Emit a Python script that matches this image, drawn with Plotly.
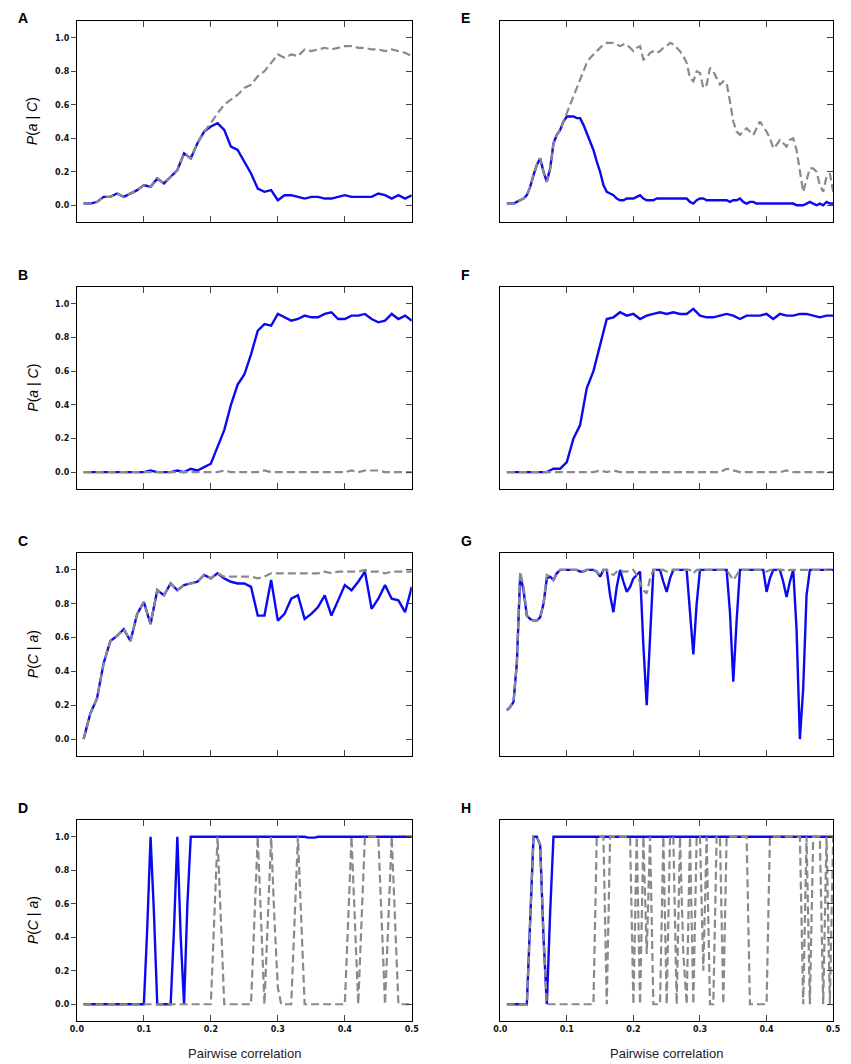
import plotly.graph_objects as go

# sample grids (pairwise correlation)
x_coarse = [round(0.01 * i, 2) for i in range(1, 51)]      # 0.01 .. 0.50
x_fine = [round(0.005 * i, 3) for i in range(2, 101)]      # 0.01 .. 0.50

# ---- left column (A-D) ----
a_blue = [0.01, 0.01, 0.02, 0.05, 0.05, 0.07, 0.05, 0.07, 0.09, 0.12,
          0.11, 0.16, 0.13, 0.17, 0.21, 0.31, 0.28, 0.37, 0.44, 0.47,
          0.49, 0.45, 0.35, 0.33, 0.26, 0.19, 0.10, 0.08, 0.09, 0.03,
          0.06, 0.06, 0.05, 0.04, 0.05, 0.05, 0.04, 0.04, 0.05, 0.06,
          0.05, 0.05, 0.05, 0.05, 0.07, 0.06, 0.04, 0.06, 0.04, 0.06]
a_gray = [0.01, 0.01, 0.02, 0.05, 0.05, 0.07, 0.05, 0.07, 0.09, 0.12,
          0.11, 0.16, 0.13, 0.17, 0.21, 0.31, 0.28, 0.37, 0.44, 0.49,
          0.55, 0.60, 0.63, 0.66, 0.70, 0.72, 0.77, 0.80, 0.85, 0.90,
          0.88, 0.90, 0.89, 0.93, 0.92, 0.93, 0.94, 0.93, 0.94, 0.95,
          0.95, 0.94, 0.94, 0.93, 0.93, 0.92, 0.93, 0.92, 0.91, 0.89]

b_blue = [0.0, 0.0, 0.0, 0.0, 0.0, 0.0, 0.0, 0.0, 0.0, 0.0,
          0.01, 0.0, 0.0, 0.0, 0.01, 0.0, 0.02, 0.01, 0.03, 0.05,
          0.15, 0.25, 0.40, 0.52, 0.58, 0.70, 0.84, 0.88, 0.87, 0.94,
          0.92, 0.90, 0.91, 0.93, 0.92, 0.92, 0.94, 0.95, 0.91, 0.91,
          0.93, 0.93, 0.94, 0.91, 0.89, 0.90, 0.94, 0.91, 0.93, 0.90]
b_gray = [0.0, 0.0, 0.0, 0.0, 0.0, 0.0, 0.0, 0.0, 0.0, 0.0,
          0.0, 0.0, 0.0, 0.0, 0.0, 0.0, 0.0, 0.0, 0.0, 0.0,
          0.0, 0.01, 0.0, 0.0, 0.0, 0.0, 0.0, 0.01, 0.0, 0.0,
          0.0, 0.0, 0.0, 0.0, 0.0, 0.0, 0.0, 0.0, 0.0, 0.0,
          0.01, 0.0, 0.01, 0.01, 0.01, 0.0, 0.0, 0.0, 0.0, 0.0]

c_blue = [0.0, 0.15, 0.24, 0.45, 0.58, 0.61, 0.65, 0.58, 0.74, 0.81,
          0.68, 0.88, 0.85, 0.92, 0.88, 0.91, 0.92, 0.93, 0.97, 0.95,
          0.98, 0.95, 0.93, 0.92, 0.92, 0.90, 0.73, 0.73, 0.94, 0.70,
          0.74, 0.83, 0.85, 0.71, 0.74, 0.78, 0.85, 0.73, 0.82, 0.91,
          0.88, 0.93, 0.99, 0.77, 0.83, 0.91, 0.83, 0.82, 0.75, 0.90]
c_gray = [0.0, 0.15, 0.24, 0.45, 0.58, 0.61, 0.65, 0.58, 0.74, 0.81,
          0.68, 0.88, 0.85, 0.92, 0.88, 0.91, 0.92, 0.93, 0.97, 0.95,
          0.98, 0.96, 0.96, 0.96, 0.96, 0.96, 0.95, 0.96, 0.98, 0.98,
          0.98, 0.98, 0.98, 0.98, 0.98, 0.98, 0.99, 0.98, 0.99, 0.99,
          0.99, 0.99, 1.0, 0.99, 0.99, 0.98, 0.99, 0.99, 0.99, 0.99]

d_blue = [0.0, 0.0, 0.0, 0.0, 0.0, 0.0, 0.0, 0.0, 0.0, 0.0,
          0.0, 0.0, 0.0, 0.0, 0.0, 0.0, 0.0, 0.0, 0.0, 0.45,
          1.0, 0.55, 0.0, 0.0, 0.0, 0.0, 0.0, 0.45, 1.0, 0.4,
          0.0, 0.6, 1.0, 1.0, 1.0, 1.0, 1.0, 1.0, 1.0, 1.0,
          1.0, 1.0, 1.0, 1.0, 1.0, 1.0, 1.0, 1.0, 1.0, 1.0,
          1.0, 1.0, 1.0, 1.0, 1.0, 1.0, 1.0, 1.0, 1.0, 1.0,
          1.0, 1.0, 1.0, 1.0, 1.0, 1.0, 1.0, 0.995, 0.995, 0.995,
          1.0, 1.0, 1.0, 1.0, 1.0, 1.0, 1.0, 1.0, 1.0, 1.0,
          1.0, 1.0, 1.0, 1.0, 1.0, 1.0, 1.0, 1.0, 1.0, 1.0,
          1.0, 1.0, 1.0, 1.0, 1.0, 1.0, 1.0, 1.0, 1.0]
d_gray = [0.0, 0.0, 0.0, 0.0, 0.0, 0.0, 0.0, 0.0, 0.0, 0.0,
          0.0, 0.0, 0.0, 0.0, 0.0, 0.0, 0.0, 0.0, 0.0, 0.0,
          0.0, 0.0, 0.0, 0.0, 0.0, 0.0, 0.0, 0.0, 0.0, 0.0,
          0.0, 0.0, 0.0, 0.0, 0.0, 0.0, 0.0, 0.0, 0.0, 0.5,
          1.0, 0.5, 0.0, 0.0, 0.0, 0.0, 0.0, 0.0, 0.0, 0.0,
          0.0, 0.5, 1.0, 0.5, 0.0, 0.5, 1.0, 0.5, 0.1, 0.0,
          0.0, 0.0, 0.0, 0.5, 1.0, 0.5, 0.0, 0.0, 0.0, 0.0,
          0.0, 0.0, 0.0, 0.0, 0.0, 0.0, 0.0, 0.0, 0.0, 0.5,
          1.0, 0.5, 0.0, 0.5, 1.0, 1.0, 1.0, 1.0, 1.0, 0.5,
          0.0, 0.5, 1.0, 0.5, 0.0, 0.0, 0.0, 0.0, 0.0]

# ---- right column (E-H) ----
e_blue = [0.01, 0.01, 0.01, 0.02, 0.03, 0.04, 0.06, 0.11, 0.18, 0.24,
          0.28, 0.20, 0.14, 0.22, 0.37, 0.42, 0.45, 0.50, 0.53, 0.53,
          0.53, 0.52, 0.52, 0.48, 0.43, 0.38, 0.33, 0.26, 0.20, 0.12,
          0.08, 0.07, 0.06, 0.04, 0.03, 0.03, 0.04, 0.04, 0.04, 0.05,
          0.06, 0.04, 0.03, 0.03, 0.03, 0.04, 0.04, 0.04, 0.04, 0.04,
          0.04, 0.04, 0.04, 0.04, 0.04, 0.02, 0.01, 0.03, 0.04, 0.04,
          0.03, 0.03, 0.03, 0.03, 0.03, 0.03, 0.03, 0.02, 0.03, 0.03,
          0.04, 0.02, 0.01, 0.02, 0.02, 0.01, 0.01, 0.01, 0.01, 0.01,
          0.01, 0.01, 0.01, 0.01, 0.01, 0.01, 0.01, 0.0, 0.0, 0.0,
          0.01, 0.02, 0.01, 0.0, 0.01, 0.0, 0.02, 0.01, 0.01]
e_gray = [0.01, 0.01, 0.01, 0.02, 0.03, 0.04, 0.06, 0.11, 0.18, 0.24,
          0.28, 0.20, 0.14, 0.22, 0.37, 0.42, 0.45, 0.50, 0.55, 0.61,
          0.66, 0.70, 0.75, 0.80, 0.85, 0.88, 0.90, 0.92, 0.94, 0.96,
          0.97, 0.97, 0.97, 0.96, 0.95, 0.96, 0.96, 0.94, 0.92, 0.94,
          0.95, 0.87, 0.88, 0.91, 0.92, 0.91, 0.92, 0.94, 0.95, 0.97,
          0.96, 0.94, 0.92, 0.89, 0.85, 0.76, 0.74, 0.80, 0.79, 0.70,
          0.72, 0.82, 0.80, 0.76, 0.72, 0.74, 0.73, 0.62, 0.50, 0.44,
          0.42, 0.44, 0.46, 0.44, 0.42, 0.46, 0.50, 0.47, 0.44, 0.40,
          0.34, 0.36, 0.39, 0.37, 0.35, 0.39, 0.40, 0.33, 0.20, 0.08,
          0.15, 0.22, 0.22, 0.20, 0.12, 0.08, 0.17, 0.19, 0.08]

f_blue = [0.0, 0.0, 0.0, 0.0, 0.0, 0.0, 0.0, 0.02, 0.02, 0.06,
          0.20, 0.28, 0.50, 0.60, 0.75, 0.91, 0.92, 0.95, 0.93, 0.94,
          0.91, 0.93, 0.94, 0.95, 0.94, 0.95, 0.94, 0.94, 0.97, 0.93,
          0.92, 0.92, 0.93, 0.94, 0.93, 0.91, 0.93, 0.93, 0.93, 0.94,
          0.91, 0.94, 0.93, 0.93, 0.94, 0.94, 0.93, 0.92, 0.93, 0.93]
f_gray = [0.0, 0.0, 0.0, 0.0, 0.0, 0.0, 0.0, 0.0, 0.0, 0.0,
          0.0, 0.0, 0.0, 0.0, 0.01, 0.0, 0.01, 0.0, 0.0, 0.0,
          0.0, 0.0, 0.0, 0.0, 0.0, 0.0, 0.0, 0.0, 0.0, 0.0,
          0.0, 0.0, 0.0, 0.02, 0.01, 0.0, 0.0, 0.0, 0.0, 0.0,
          0.0, 0.0, 0.01, 0.0, 0.0, 0.0, 0.0, 0.0, 0.0, 0.0]

g_blue = [0.17, 0.19, 0.22, 0.45, 0.97, 0.88, 0.73, 0.71, 0.70, 0.70,
          0.72, 0.80, 0.95, 0.96, 0.94, 0.98, 1.0, 1.0, 1.0, 1.0,
          1.0, 1.0, 0.99, 0.99, 1.0, 1.0, 1.0, 0.99, 0.96, 1.0,
          1.0, 0.85, 0.75, 0.90, 1.0, 0.93, 0.87, 0.90, 0.95, 0.97,
          0.99, 0.55, 0.20, 0.60, 1.0, 1.0, 1.0, 0.93, 0.87, 0.95,
          1.0, 1.0, 1.0, 1.0, 1.0, 0.75, 0.50, 0.80, 1.0, 1.0,
          1.0, 1.0, 1.0, 1.0, 1.0, 1.0, 1.0, 0.75, 0.34, 0.70,
          1.0, 1.0, 1.0, 1.0, 1.0, 1.0, 1.0, 1.0, 0.87, 0.95,
          1.0, 1.0, 1.0, 0.93, 0.84, 0.93, 1.0, 0.65, 0.0, 0.30,
          0.85, 1.0, 1.0, 1.0, 1.0, 1.0, 1.0, 1.0, 1.0]
g_gray = [0.17, 0.19, 0.22, 0.45, 0.99, 0.90, 0.73, 0.71, 0.70, 0.70,
          0.72, 0.80, 0.97, 0.96, 0.94, 0.98, 1.0, 1.0, 1.0, 1.0,
          1.0, 1.0, 0.99, 0.99, 1.0, 1.0, 1.0, 0.99, 0.97, 1.0,
          1.0, 0.98, 0.97, 0.99, 1.0, 0.99, 0.99, 1.0, 1.0, 0.97,
          0.93, 0.88, 0.86, 0.95, 1.0, 1.0, 1.0, 1.0, 0.99, 1.0,
          1.0, 1.0, 1.0, 1.0, 1.0, 1.0, 0.98, 1.0, 1.0, 1.0,
          1.0, 1.0, 1.0, 1.0, 1.0, 1.0, 1.0, 0.97, 0.94, 0.97,
          1.0, 1.0, 1.0, 1.0, 1.0, 1.0, 1.0, 1.0, 0.99, 1.0,
          1.0, 1.0, 1.0, 1.0, 0.99, 1.0, 1.0, 1.0, 1.0, 1.0,
          1.0, 1.0, 1.0, 1.0, 1.0, 1.0, 1.0, 1.0, 1.0]

h_blue = [0.0, 0.0, 0.0, 0.0, 0.0, 0.0, 0.0, 0.5, 1.0, 1.0,
          0.95, 0.4, 0.0, 0.55, 1.0, 1.0, 1.0, 1.0, 1.0, 1.0,
          1.0, 1.0, 1.0, 1.0, 1.0, 1.0, 1.0, 1.0, 1.0, 1.0,
          1.0, 1.0, 1.0, 1.0, 1.0, 1.0, 1.0, 1.0, 1.0, 1.0,
          1.0, 1.0, 1.0, 1.0, 1.0, 1.0, 1.0, 1.0, 1.0, 1.0,
          1.0, 1.0, 1.0, 1.0, 1.0, 1.0, 1.0, 1.0, 1.0, 1.0,
          1.0, 1.0, 1.0, 1.0, 1.0, 1.0, 1.0, 1.0, 1.0, 1.0,
          1.0, 1.0, 1.0, 1.0, 1.0, 1.0, 1.0, 1.0, 1.0, 1.0,
          1.0, 1.0, 1.0, 1.0, 1.0, 1.0, 1.0, 1.0, 1.0, 1.0,
          1.0, 1.0, 1.0, 1.0, 1.0, 1.0, 1.0, 1.0, 1.0]
h_gray = [0.0, 0.0, 0.0, 0.0, 0.0, 0.0, 0.0, 0.5, 1.0, 1.0,
          0.95, 0.4, 0.0, 0.0, 0.0, 0.0, 0.0, 0.0, 0.0, 0.0,
          0.0, 0.0, 0.0, 0.0, 0.0, 0.0, 0.0, 1.0, 1.0, 1.0,
          0.0, 1.0, 1.0, 1.0, 1.0, 1.0, 1.0, 1.0, 0.0, 1.0,
          0.0, 1.0, 0.3, 1.0, 0.0, 0.0, 0.0, 1.0, 0.0, 1.0,
          1.0, 0.0, 1.0, 0.3, 0.0, 1.0, 0.0, 1.0, 1.0, 0.2,
          1.0, 0.0, 0.0, 1.0, 1.0, 0.0, 1.0, 1.0, 1.0, 1.0,
          1.0, 1.0, 1.0, 0.0, 0.0, 0.0, 0.0, 0.0, 0.0, 1.0,
          1.0, 1.0, 1.0, 1.0, 1.0, 1.0, 1.0, 1.0, 1.0, 0.0,
          1.0, 0.0, 1.0, 1.0, 1.0, 0.0, 1.0, 0.0, 1.0]

panels = [
    # letter, row, col, x grid, blue, gray, y title
    ('A', 0, 0, x_coarse, a_blue, a_gray, 'aC'),
    ('B', 1, 0, x_coarse, b_blue, b_gray, 'aC'),
    ('C', 2, 0, x_coarse, c_blue, c_gray, 'Ca'),
    ('D', 3, 0, x_fine, d_blue, d_gray, 'Ca'),
    ('E', 0, 1, x_fine, e_blue, e_gray, None),
    ('F', 1, 1, x_coarse, f_blue, f_gray, None),
    ('G', 2, 1, x_fine, g_blue, g_gray, None),
    ('H', 3, 1, x_fine, h_blue, h_gray, None),
]

# the page body adds an 8px margin, so the figure is shifted by that much
OFF = 8
W, H = 851 - OFF, 1064 - OFF
col_px = [(71, 412), (502, 841)]
row_px = [(21, 222), (287, 489), (553, 756), (820, 1021)]
yticks = [0.0, 0.2, 0.4, 0.6, 0.8, 1.0]
xticks = [0.0, 0.1, 0.2, 0.3, 0.4, 0.5]
blue = '#0a0af0'
gray = '#8a8a8a'
tickfont = dict(family='DejaVu Sans', size=8, color='#111111', weight='bold')


def px_x(p):
    return (p - OFF) / W


def px_y(p):
    return 1 - (p - OFF) / H


fig = go.Figure()
layout = dict(width=W, height=H, margin=dict(l=0, r=0, t=0, b=0),
              paper_bgcolor='white', plot_bgcolor='white',
              showlegend=False, annotations=[])

for i, (letter, r, c, xs, yb, yg, ytitle) in enumerate(panels):
    n = i + 1
    xa, ya, yr = 'x%d' % n, 'y%d' % n, 'y%d' % (n + 8)
    fig.add_trace(go.Scatter(x=xs, y=yb, mode='lines', xaxis=xa, yaxis=ya,
                             line=dict(color=blue, width=2.4), hoverinfo='skip'))
    fig.add_trace(go.Scatter(x=xs, y=yg, mode='lines', xaxis=xa, yaxis=ya,
                             line=dict(color=gray, width=2.2, dash='8px,4px'),
                             hoverinfo='skip'))
    # empty trace so the right-hand tick axis is drawn
    fig.add_trace(go.Scatter(x=[None], y=[None], xaxis=xa, yaxis=yr,
                             hoverinfo='skip'))

    x0, x1 = col_px[c]
    t, b = row_px[r]
    xdom = [px_x(x0), px_x(x1)]
    ydom = [px_y(b), px_y(t)]
    bottom = (r == 3)

    layout['xaxis%d' % n] = dict(
        domain=xdom, anchor=ya, range=[0, 0.5], tickvals=xticks,
        tickformat='.1f', ticks='inside', ticklen=6, tickwidth=1.2,
        showline=True, linecolor='black', linewidth=1, mirror='ticks',
        showgrid=False, zeroline=False, showticklabels=bottom,
        tickfont=tickfont)
    layout['yaxis%d' % n] = dict(
        domain=ydom, anchor=xa, range=[-0.1, 1.1], tickvals=yticks,
        tickformat='.1f', ticks='outside' if c == 0 else '', ticklen=5,
        tickwidth=1.2, showline=True, linecolor='black', linewidth=1,
        mirror=True, showgrid=False, zeroline=False,
        showticklabels=(c == 0), tickfont=tickfont)
    layout['yaxis%d' % (n + 8)] = dict(
        overlaying=ya, anchor=xa, side='right', range=[-0.1, 1.1],
        tickvals=yticks, ticks='inside', ticklen=6, tickwidth=1.2,
        showline=False, showgrid=False, zeroline=False,
        showticklabels=False)

    # panel letter (kept just inside the figure edge)
    ly = max(t - 12, OFF + 10)
    layout['annotations'].append(dict(
        text='<b>%s</b>' % letter, xref='paper', yref='paper',
        x=px_x(9 if c == 0 else 460), y=px_y(ly),
        xanchor='left', yanchor='middle', showarrow=False,
        font=dict(family='Liberation Sans', size=14, color='black')))

    if ytitle == 'aC':
        ttl = '<i>P</i>(<i>a</i> | <i>C</i>)'
    elif ytitle == 'Ca':
        ttl = '<i>P</i>(<i>C</i> | <i>a</i>)'
    else:
        ttl = None
    if ttl:
        layout['annotations'].append(dict(
            text=ttl, xref='paper', yref='paper', x=px_x(26),
            y=px_y((t + b) / 2), textangle=-90, showarrow=False,
            xanchor='center', yanchor='middle',
            font=dict(family='Liberation Sans', size=14, color='black')))
    if bottom:
        layout['annotations'].append(dict(
            text='Pairwise correlation', xref='paper', yref='paper',
            x=px_x((x0 + x1) / 2), y=px_y(1053), showarrow=False,
            xanchor='center', yanchor='middle',
            font=dict(family='Liberation Sans', size=13, color='#222222')))

fig.update_layout(**layout)

fig.write_html('out.html')
